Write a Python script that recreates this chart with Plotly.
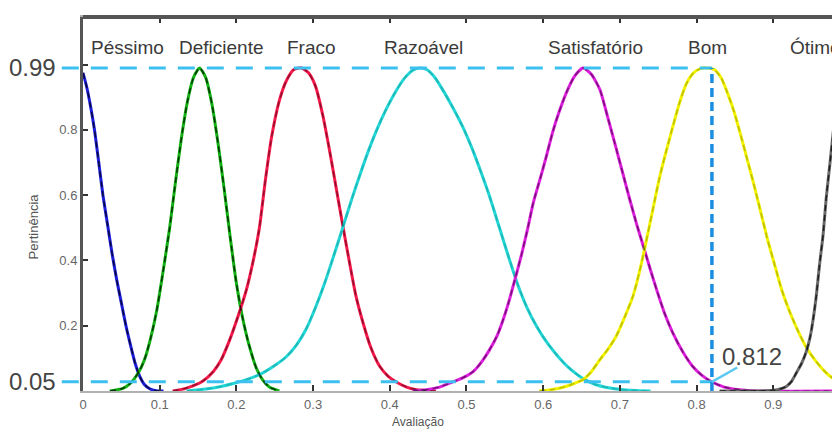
import plotly.graph_objects as go

# ---- data ----
x_pessimo = [0.0, 0.005, 0.010, 0.015, 0.020, 0.026, 0.032, 0.038, 0.044, 0.050, 0.056, 0.062, 0.068, 0.074, 0.080, 0.087, 0.095, 0.105]
y_pessimo = [0.975, 0.93, 0.87, 0.80, 0.71, 0.60, 0.51, 0.42, 0.34, 0.27, 0.20, 0.14, 0.085, 0.045, 0.02, 0.007, 0.001, 0.0]

x_deficiente = [0.035, 0.052, 0.062, 0.072, 0.080, 0.088, 0.096, 0.104, 0.113, 0.120, 0.128, 0.136, 0.144, 0.152,
                0.160, 0.168, 0.176, 0.184, 0.192, 0.200, 0.208, 0.216, 0.226, 0.234, 0.243, 0.256]
y_deficiente = [0.0, 0.008, 0.024, 0.055, 0.095, 0.16, 0.245, 0.36, 0.50, 0.63, 0.77, 0.885, 0.96, 0.99,
                0.96, 0.88, 0.76, 0.62, 0.47, 0.33, 0.225, 0.145, 0.07, 0.035, 0.012, 0.0]

x_fraco = [0.117, 0.135, 0.156, 0.170, 0.180, 0.191, 0.203, 0.213, 0.222, 0.230, 0.238, 0.246, 0.256, 0.265, 0.275, 0.285,
           0.294, 0.303, 0.313, 0.322, 0.331, 0.339, 0.347, 0.356, 0.365, 0.375, 0.387, 0.398, 0.409, 0.422, 0.435, 0.46]
y_fraco = [0.0, 0.009, 0.03, 0.06, 0.095, 0.155, 0.235, 0.31, 0.40, 0.50, 0.65, 0.78, 0.89, 0.95, 0.985, 0.99,
           0.975, 0.935, 0.841, 0.73, 0.61, 0.503, 0.40, 0.29, 0.21, 0.135, 0.075, 0.045, 0.027, 0.012, 0.004, 0.0]

x_razoavel = [0.135, 0.16, 0.18, 0.196, 0.213, 0.23, 0.248, 0.265, 0.278, 0.291, 0.303, 0.315, 0.327, 0.339, 0.350,
              0.361, 0.372, 0.383, 0.395, 0.407, 0.419, 0.430, 0.439, 0.448, 0.459, 0.471, 0.483, 0.495, 0.507, 0.519,
              0.531, 0.543, 0.555, 0.567, 0.579, 0.591, 0.603, 0.615, 0.627, 0.639, 0.652, 0.668, 0.685, 0.704, 0.74]
y_razoavel = [0.0, 0.006, 0.014, 0.023, 0.035, 0.05, 0.075, 0.105, 0.14, 0.19, 0.255, 0.33, 0.415, 0.503, 0.585,
              0.662, 0.735, 0.80, 0.862, 0.915, 0.958, 0.983, 0.99, 0.985, 0.96, 0.915, 0.865, 0.81, 0.745, 0.67,
              0.59, 0.50, 0.41, 0.325, 0.255, 0.20, 0.155, 0.118, 0.086, 0.06, 0.038, 0.02, 0.01, 0.004, 0.0]

x_satisfatorio = [0.43, 0.448, 0.465, 0.478, 0.495, 0.509, 0.520, 0.530, 0.540, 0.548, 0.556, 0.563, 0.572, 0.580,
                  0.587, 0.596, 0.604, 0.612, 0.620, 0.630, 0.641, 0.652, 0.663, 0.674, 0.684, 0.695, 0.704, 0.713,
                  0.722, 0.732, 0.740, 0.748, 0.758, 0.769, 0.782, 0.795, 0.807, 0.819, 0.836, 0.856, 0.878, 0.99]
y_satisfatorio = [0.0, 0.004, 0.012, 0.024, 0.04, 0.06, 0.09, 0.126, 0.17, 0.22, 0.28, 0.34, 0.42, 0.50,
                  0.576, 0.65, 0.718, 0.79, 0.85, 0.913, 0.965, 0.99, 0.97, 0.923, 0.84, 0.745, 0.665, 0.586,
                  0.51, 0.433, 0.37, 0.31, 0.24, 0.178, 0.12, 0.075, 0.048, 0.029, 0.012, 0.004, 0.0, 0.0]

x_bom = [0.595, 0.610, 0.622, 0.637, 0.652, 0.663, 0.674, 0.685, 0.695, 0.706, 0.717, 0.725, 0.732, 0.742, 0.752,
         0.761, 0.769, 0.778, 0.787, 0.796, 0.805, 0.813, 0.823, 0.832, 0.840, 0.849, 0.858, 0.866, 0.875, 0.884,
         0.893, 0.902, 0.911, 0.921, 0.932, 0.944, 0.956, 0.968, 0.98, 0.99]
y_bom = [0.0, 0.004, 0.009, 0.02, 0.035, 0.06, 0.096, 0.13, 0.167, 0.225, 0.29, 0.36, 0.433, 0.545, 0.657,
         0.74, 0.81, 0.885, 0.943, 0.975, 0.988, 0.99, 0.985, 0.96, 0.915, 0.855, 0.78, 0.71, 0.63, 0.545,
         0.46, 0.385, 0.31, 0.245, 0.185, 0.13, 0.09, 0.058, 0.035, 0.022]

x_otimo = [0.83, 0.88, 0.90, 0.91, 0.917, 0.924, 0.93, 0.937, 0.943, 0.948, 0.952, 0.956, 0.96, 0.965, 0.969, 0.974, 0.978, 0.983, 0.987, 0.992]
y_otimo = [0.0, 0.0, 0.002, 0.007, 0.014, 0.03, 0.055, 0.085, 0.12, 0.165, 0.22, 0.29, 0.38, 0.48, 0.59, 0.70, 0.79, 0.89, 0.97, 1.0]

set_names = ["Péssimo", "Deficiente", "Fraco", "Razoável", "Satisfatório", "Bom", "Ótimo"]
label_x = [0.058, 0.180, 0.298, 0.444, 0.668, 0.814, 0.919]
label_y = 1.054

x_ticks = [0, 0.1, 0.2, 0.3, 0.4, 0.5, 0.6, 0.7, 0.8, 0.9]
x_ticktext = ["0", "0.1", "0.2", "0.3", "0.4", "0.5", "0.6", "0.7", "0.8", "0.9"]
y_ticks = [0.2, 0.4, 0.6, 0.8, 1.0]
y_ticktext = ["0.2", "0.4", "0.6", "0.8", ""]

high_level = 0.99
low_level = 0.028          # where the "0.05" line is drawn in the picture
low_text = "0.05"
bom_cut = 0.82
bom_text = "0.812"
x_max = 0.987
y_max = 1.146

# ---- styling ----
series = [
    (x_pessimo, y_pessimo, "#1c1cd8", 0.7),
    (x_deficiente, y_deficiente, "#12b012", 0.7),
    (x_fraco, y_fraco, "#f5184a", 0.4),
    (x_razoavel, y_razoavel, "#22d6d6", 0.15),
    (x_satisfatorio, y_satisfatorio, "#dc1edc", 0.45),
    (x_bom, y_bom, "#f2f200", 0.22),
    (x_otimo, y_otimo, "#6a6a6a", 0.7),
]

fig = go.Figure()
for xs, ys, col, dop in series:
    fig.add_trace(go.Scatter(x=xs, y=ys, mode="lines",
                             line=dict(color=col, width=3, shape="spline", smoothing=0.6),
                             hoverinfo="skip", showlegend=False))
for xs, ys, col, dop in series:
    fig.add_trace(go.Scatter(x=xs, y=ys, mode="lines", opacity=dop,
                             line=dict(color="#000000", width=1.5, dash="6px,4px", shape="spline", smoothing=0.6),
                             hoverinfo="skip", showlegend=False))

light_blue = "#3cc0f0"
fig.add_shape(type="line", xref="paper", yref="y", x0=-0.028, x1=bom_cut / x_max,
              y0=high_level, y1=high_level, line=dict(color=light_blue, width=3, dash="17px,12px"))
fig.add_shape(type="line", xref="paper", yref="y", x0=-0.028, x1=bom_cut / x_max,
              y0=low_level, y1=low_level, line=dict(color=light_blue, width=3, dash="17px,12px"))
fig.add_shape(type="line", xref="x", yref="y", x0=bom_cut, x1=bom_cut,
              y0=0, y1=high_level, line=dict(color="#1a8ee0", width=3.5, dash="9px,5px"))
fig.add_shape(type="line", xref="x", yref="y", x0=bom_cut, x1=bom_cut + 0.033,
              y0=low_level, y1=low_level + 0.044, line=dict(color="#5cc8f0", width=2.5))
# thick top frame
fig.add_shape(type="line", xref="paper", yref="paper", x0=0, x1=1, y0=1, y1=1,
              line=dict(color="#555555", width=4))

for name, lx in zip(set_names, label_x):
    fig.add_annotation(x=lx, y=label_y, xref="x", yref="y", text=name, showarrow=False,
                       xanchor="left" if name == "Ótimo" else "center", yanchor="middle",
                       font=dict(family="Liberation Sans, Arial", size=19, color="#3a3a3a"))

big = dict(family="Liberation Sans, Arial", size=24, color="#444444")
fig.add_annotation(x=-0.033, y=high_level, xref="paper", yref="y", text=f"{high_level:.2f}",
                   showarrow=False, xanchor="right", yanchor="middle", font=big)
fig.add_annotation(x=-0.033, y=low_level, xref="paper", yref="y", text=low_text,
                   showarrow=False, xanchor="right", yanchor="middle", font=big)
fig.add_annotation(x=bom_cut + 0.052, y=0.105, xref="x", yref="y", text=bom_text,
                   showarrow=False, xanchor="center", yanchor="middle", font=big)

small = dict(family="Liberation Sans, Arial", size=12, color="#555555")
fig.add_annotation(x=0.4425, y=-0.082, xref="paper", yref="paper", text="Avaliação",
                   showarrow=False, xanchor="center", yanchor="middle", font=small)
fig.add_annotation(x=-0.066, y=0.44, xref="paper", yref="paper", text="Pertinência",
                   showarrow=False, textangle=-90, xanchor="center", yanchor="middle",
                   font=dict(family="Liberation Sans, Arial", size=13, color="#555555"))

# page body has an 8px margin: size the figure so the plot lands where the reference has it
fig.update_layout(
    width=832, height=422,
    margin=dict(l=75, r=0, t=9, b=39),
    paper_bgcolor="white", plot_bgcolor="white",
    showlegend=False,
    xaxis=dict(range=[0, x_max], tickvals=x_ticks, ticktext=x_ticktext,
               ticks="inside", ticklen=6, tickwidth=1.5, tickcolor="#333333",
               showline=True, linecolor="#b0b0b0", linewidth=2, mirror="ticks",
               showgrid=False, zeroline=False,
               tickfont=dict(family="Liberation Sans, Arial", size=13, color="#666666")),
    yaxis=dict(range=[0, y_max], tickvals=y_ticks, ticktext=y_ticktext,
               ticks="inside", ticklen=5, tickwidth=1.5, tickcolor="#333333",
               showline=True, linecolor="#555555", linewidth=3,
               showgrid=False, zeroline=False,
               tickfont=dict(family="Liberation Sans, Arial", size=13, color="#666666")),
)

fig.write_html("out.html")
